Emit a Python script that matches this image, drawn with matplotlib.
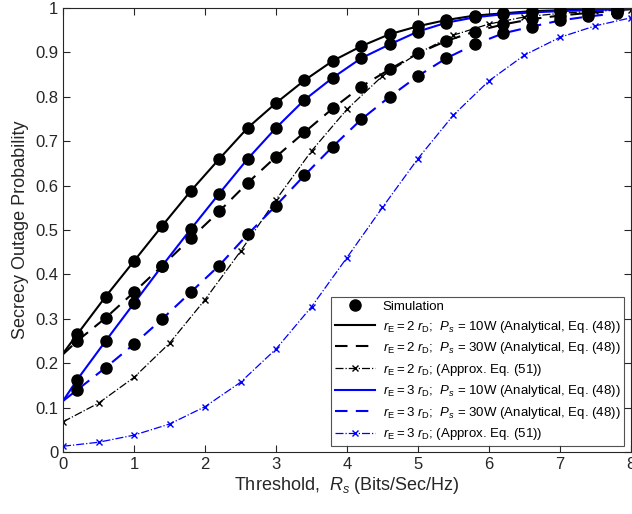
import numpy as np
import matplotlib.pyplot as plt

plt.rcParams['font.family'] = 'Liberation Sans'
plt.rcParams['mathtext.fontset'] = 'custom'
plt.rcParams['mathtext.rm'] = 'Liberation Sans'
plt.rcParams['mathtext.it'] = 'Liberation Sans:italic'

# ===== DATA =====
x_sim = [0.2, 0.6, 1.0, 1.4, 1.8, 2.2, 2.6, 3.0, 3.4, 3.8,
         4.2, 4.6, 5.0, 5.4, 5.8, 6.2, 6.6, 7.0, 7.4, 7.8]
x_line = [0.0] + x_sim + [8.0]
x_approx = [0, 0.5, 1, 1.5, 2, 2.5, 3, 3.5, 4, 4.5, 5, 5.5, 6, 6.5, 7, 7.5, 8]

# r_E = 2 r_D, Ps = 10W
r2_p10 = [0.265, 0.350, 0.430, 0.510, 0.588, 0.660, 0.730, 0.786, 0.837, 0.881,
          0.914, 0.941, 0.959, 0.973, 0.983, 0.988, 0.993, 0.995, 0.997, 0.998]
# r_E = 2 r_D, Ps = 30W
r2_p30 = [0.250, 0.302, 0.360, 0.420, 0.481, 0.542, 0.606, 0.665, 0.720, 0.774,
          0.823, 0.862, 0.898, 0.926, 0.947, 0.963, 0.975, 0.983, 0.989, 0.993]
# r_E = 3 r_D, Ps = 10W
r3_p10 = [0.163, 0.250, 0.335, 0.420, 0.502, 0.582, 0.660, 0.730, 0.793, 0.843,
          0.887, 0.918, 0.947, 0.967, 0.979, 0.986, 0.990, 0.993, 0.995, 0.997]
# r_E = 3 r_D, Ps = 30W
r3_p30 = [0.140, 0.190, 0.243, 0.300, 0.360, 0.420, 0.490, 0.555, 0.623, 0.688,
          0.749, 0.800, 0.847, 0.887, 0.918, 0.943, 0.958, 0.972, 0.981, 0.988]

r2_p10_start, r2_p10_end = 0.222, 0.999
r2_p30_start, r2_p30_end = 0.220, 0.995
r3_p10_start, r3_p10_end = 0.115, 0.998
r3_p30_start, r3_p30_end = 0.115, 0.991

# approximations, Eq. (51)
r2_approx = [0.068, 0.110, 0.168, 0.245, 0.343, 0.452, 0.568, 0.678, 0.772,
             0.847, 0.898, 0.939, 0.964, 0.980, 0.988, 0.993, 0.996]
r3_approx = [0.013, 0.022, 0.038, 0.063, 0.102, 0.157, 0.232, 0.327, 0.438,
             0.551, 0.661, 0.759, 0.836, 0.894, 0.934, 0.960, 0.978]

lbl_r2 = r'$r_{\rm E} = 2\ r_{\rm D}$;'
lbl_r3 = r'$r_{\rm E} = 3\ r_{\rm D}$;'

fig = plt.figure(figsize=(6.32, 5.14), dpi=100)
ax = fig.add_axes([0.0997, 0.1206, 0.8987, 0.8638])

sim_x = x_sim * 4
sim_y = r2_p10 + r2_p30 + r3_p10 + r3_p30
ax.plot(sim_x, sim_y, 'o', color='black', ms=8, ls='none', label='Simulation', zorder=5)

ax.plot(x_line, [r2_p10_start] + r2_p10 + [r2_p10_end], '-', color='black', lw=1.5,
        label=lbl_r2 + r'  $P_s$ = 10W (Analytical, Eq. (48))')
ax.plot(x_line, [r2_p30_start] + r2_p30 + [r2_p30_end], '--', color='black', lw=1.5,
        dashes=(6, 4), label=lbl_r2 + r'  $P_s$ = 30W (Analytical, Eq. (48))')
ax.plot(x_approx, r2_approx, '-.', color='black', lw=0.9, marker='x', ms=5,
        label=lbl_r2 + ' (Approx. Eq. (51))')
ax.plot(x_line, [r3_p10_start] + r3_p10 + [r3_p10_end], '-', color='#0000ff', lw=1.5,
        label=lbl_r3 + r'  $P_s$ = 10W (Analytical, Eq. (48))')
ax.plot(x_line, [r3_p30_start] + r3_p30 + [r3_p30_end], '--', color='#0000ff', lw=1.5,
        dashes=(6, 4), label=lbl_r3 + r'  $P_s$ = 30W (Analytical, Eq. (48))')
ax.plot(x_approx, r3_approx, '-.', color='#0000ff', lw=0.9, marker='x', ms=5,
        label=lbl_r3 + ' (Approx. Eq. (51))')

ax.set_xlim(0, 8)
ax.set_ylim(0, 1)
ax.set_xticks(range(0, 9))
ax.set_yticks(np.arange(0, 1.01, 0.1))
ax.set_yticklabels(['0', '0.1', '0.2', '0.3', '0.4', '0.5', '0.6', '0.7', '0.8', '0.9', '1'])
ax.tick_params(direction='in', top=True, right=True, labelsize=12, colors='#262626',
               length=5, width=0.8)
for s in ax.spines.values():
    s.set_color('#262626')
    s.set_linewidth(0.8)

ax.set_xlabel(r'Threshold,  $R_s$ (Bits/Sec/Hz)', fontsize=13, color='#262626', labelpad=2)
ax.set_ylabel('Secrecy Outage Probability', fontsize=13, color='#262626', labelpad=4)

leg = ax.legend(loc='lower right', bbox_to_anchor=(0.988, 0.013), fontsize=9.5,
                handlelength=3.0, frameon=True, fancybox=False, edgecolor='#262626',
                borderpad=0.3, labelspacing=0.42, handletextpad=0.6, borderaxespad=0)
leg.get_frame().set_linewidth(0.8)

fig.savefig('out.png', dpi=100)
